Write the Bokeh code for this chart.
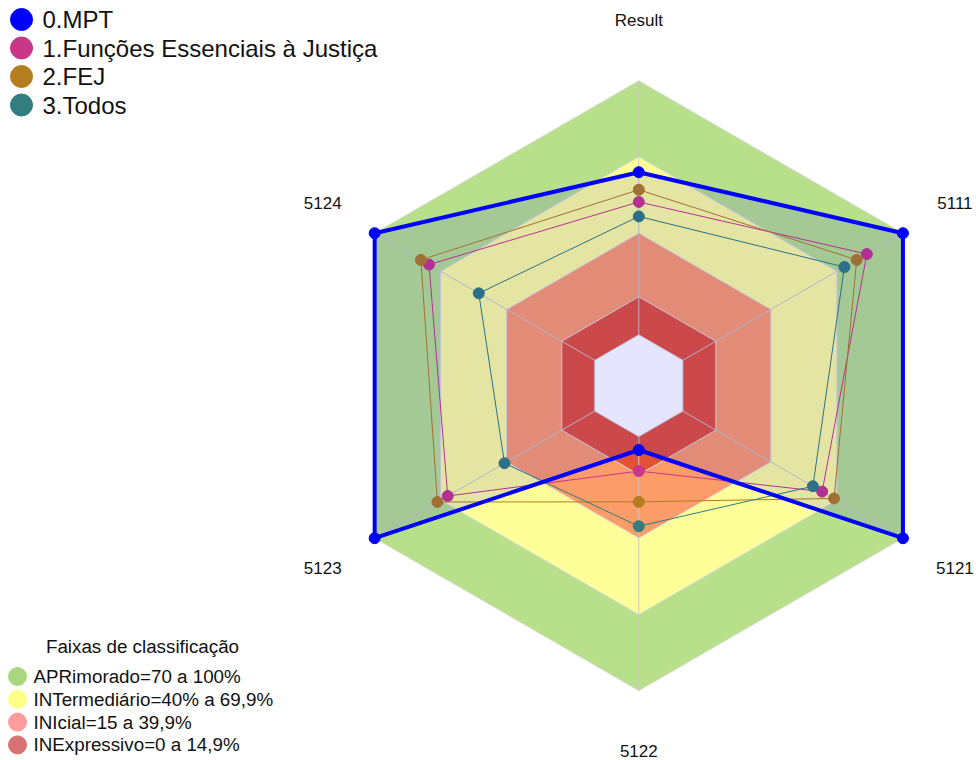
import math
from bokeh.plotting import figure
from bokeh.models import Range1d
from bokeh.core.properties import value
from bokeh.embed import file_html
from bokeh.resources import INLINE

# ---------------- data ----------------
axis_labels = ["Result", "5111", "5121", "5122", "5123", "5124"]
series_names = ["0.MPT", "1.Funções Essenciais à Justiça", "2.FEJ", "3.Todos"]
mpt = [64.0, 100.0, 100.0, 5.3, 100.0, 100.0]
funcoes = [52.3, 83.6, 63.3, 13.6, 66.8, 75.3]
fej = [57.1, 79.0, 68.7, 25.7, 71.5, 79.0]
todos = [46.6, 73.4, 59.1, 35.3, 41.0, 52.7]
series_colors = ["#0000FF", "#C8378A", "#B47D1E", "#327D7D"]

band_limits = [100, 70, 40, 15, 0]
band_fill = ["#B8E08A", "#FFFF99", "#FC9C68", "#E35236", "#FFFFFF"]
legend_title = "Faixas de classificação"
band_labels = ["APRimorado=70 a 100%", "INTermediário=40% a 69,9%",
               "INIcial=15 a 39,9%", "INExpressivo=0 a 14,9%"]
band_legend_colors = ["#A9D77E", "#FFFF88", "#FF9C9C", "#D77272"]

# ---------------- geometry ----------------
VMIN, VMAX = -20.0, 100.0
R = 305.0
LABEL_R = 365.0
CX, CY = 638.3, 385.2
W, H = 976, 760
FONT = "Liberation Sans"

angles = [math.radians(90 - 60 * i) for i in range(len(axis_labels))]


def rad(v):
    return R * (v - VMIN) / (VMAX - VMIN)


def polygon(vals):
    xs = [rad(v) * math.cos(a) for v, a in zip(vals, angles)]
    ys = [rad(v) * math.sin(a) for v, a in zip(vals, angles)]
    return xs, ys


def px(x):
    return x - CX


def py(y):
    return CY - y


p = figure(width=W, height=H,
           x_range=Range1d(px(0), px(W)), y_range=Range1d(py(H), py(0)),
           output_backend="svg", toolbar_location=None,
           x_axis_location=None, y_axis_location=None,
           min_border=0, outline_line_color=None)
p.grid.visible = False
p.background_fill_color = "white"

# bands
for lim, col in zip(band_limits, band_fill):
    xs, ys = polygon([lim] * len(axis_labels))
    p.patch(xs, ys, fill_color=col, line_color="#DCDCDC", line_width=1)

# spokes
x0 = [rad(0) * math.cos(a) for a in angles]
y0 = [rad(0) * math.sin(a) for a in angles]
x1 = [rad(100) * math.cos(a) for a in angles]
y1 = [rad(100) * math.sin(a) for a in angles]
p.segment(x0, y0, x1, y1, line_color="#C8C8C8", line_width=1)

# other series
for vals, col in zip([funcoes, fej, todos], series_colors[1:]):
    xs, ys = polygon(vals)
    p.line(xs + xs[:1], ys + ys[:1], line_color=col, line_width=1)
    p.scatter(xs, ys, size=11, fill_color=col, line_color=col)

# MPT
xs, ys = polygon(mpt)
p.patch(xs, ys, fill_color="#0000FF", fill_alpha=0.1, line_color="#0000FF",
        line_width=4)
p.scatter(xs, ys, size=11, fill_color="#0000FF", line_color="#0000FF")

# axis labels
lx = [LABEL_R * math.cos(a) for a in angles]
ly = [LABEL_R * math.sin(a) for a in angles]
p.text(lx, ly, text=axis_labels, text_align="center", text_baseline="middle",
       text_font=value(FONT), text_font_size="17px", text_color="#111111")

# top legend
top_rows = [19 + 28.5 * i for i in range(len(series_names))]
p.scatter([px(21)] * len(series_names), [py(y) for y in top_rows], size=22,
          fill_color=series_colors, line_color=series_colors)
p.text([px(42)] * len(series_names), [py(y) for y in top_rows], text=series_names,
       text_align="left", text_baseline="middle", text_font=value(FONT),
       text_font_size="24px", text_color="#111111")

# band legend
p.text([px(142)], [py(646)], text=[legend_title], text_align="center",
       text_baseline="middle", text_font=value(FONT), text_font_size="18.8px",
       text_color="#111111")
band_rows = [676 + 22.8 * i for i in range(len(band_labels))]
p.scatter([px(17)] * len(band_labels), [py(y) for y in band_rows], size=18,
          fill_color=band_legend_colors, line_color=band_legend_colors)
p.text([px(33)] * len(band_labels), [py(y) for y in band_rows], text=band_labels,
       text_align="left", text_baseline="middle", text_font=value(FONT),
       text_font_size="18.8px", text_color="#111111")

open("out.html", "w").write(file_html(p, INLINE))
